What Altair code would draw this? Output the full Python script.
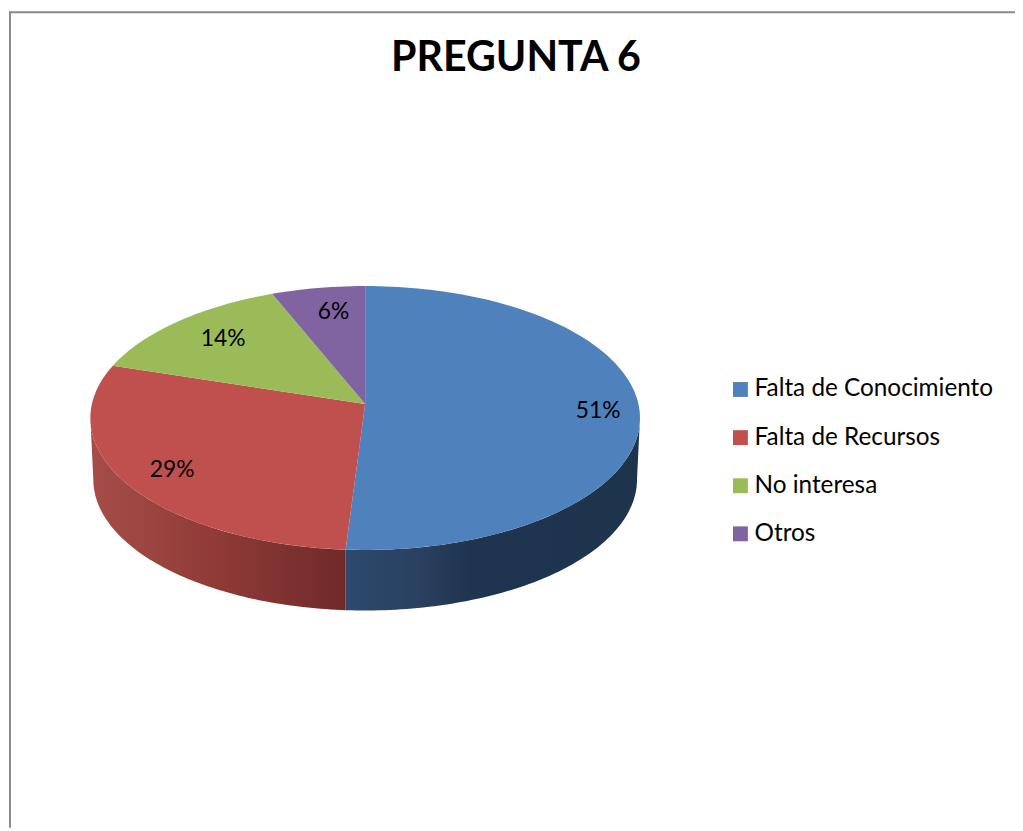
import math
import altair as alt

categories = ["Falta de Conocimiento", "Falta de Recursos", "No interesa", "Otros"]
shares = [51, 29, 14, 6]
colors = ["#4f81bd", "#c0504d", "#9bbb59", "#8064a2"]
label_reach = [0.85, 0.80, 0.80, 0.82]
label_turn = [0, 0, 3, 2]

# Picture geometry of the tilted pie (page pixels)
CX, CY, RX, RY = 368.0, 418.0, 277.0, 133.0
AX, AY, TILT = 368.0, 404.0, 130.0
BCX, BCY, BRX, BRY = 368.0, 480.0, 274.0, 132.0


def rim(theta_deg):
    """Point where the ray for a pie angle leaves the top ellipse."""
    t = math.radians(theta_deg)
    dx, dy = math.sin(t) * RX, -math.cos(t) * TILT
    ox, oy = (AX - CX) / RX, (AY - CY) / RY
    ux, uy = dx / RX, dy / RY
    a = ux * ux + uy * uy
    b = 2 * (ox * ux + oy * uy)
    c = ox * ox + oy * oy - 1
    s = (-b + math.sqrt(b * b - 4 * a * c)) / (2 * a)
    return [AX + s * dx, AY + s * dy]


def ell(cx, cy, rx, ry, t_deg):
    t = math.radians(t_deg)
    return [cx + rx * math.sin(t), cy - ry * math.cos(t)]


def feature(name, ring):
    return {"type": "Feature", "properties": {"name": name},
            "geometry": {"type": "Polygon", "coordinates": [ring + [ring[0]]]}}


tops, labels = [], []
start = 0.0
for name, share, reach, turn in zip(categories, shares, label_reach, label_turn):
    end = start + share * 3.6
    n = max(2, int((end - start) / 1.5))
    ring = [[AX, AY]] + [rim(start + (end - start) * i / n) for i in range(n + 1)]
    tops.append(feature(name, ring))
    mx, my = rim((start + end) / 2 + turn)
    labels.append({"lon": AX + reach * (mx - AX), "lat": AY + reach * (my - AY) + 4,
                   "text": f"{share}%"})
    start = end

seam = rim(shares[0] * 3.6)
t_seam = 180 - math.degrees(math.asin((seam[0] - CX) / RX))
t_bseam = 180 - math.degrees(math.asin((seam[0] - BCX) / BRX))


def wall(t0, t1, b0, b1):
    n = 80
    upper = [ell(CX, CY, RX, RY, t0 + (t1 - t0) * i / n) for i in range(n + 1)]
    lower = [ell(BCX, BCY, BRX, BRY, b0 + (b1 - b0) * i / n) for i in range(n + 1)]
    return upper + lower[::-1]


blue_wall = [feature("blue", wall(90, t_seam, 90, t_bseam))]
red_wall = [feature("red", wall(t_seam, 270, t_bseam, 270))]


def grad(stops):
    return {"gradient": "linear", "x1": 0, "x2": 1, "y1": 0, "y2": 0,
            "stops": [{"offset": o, "color": c} for o, c in stops]}


wall_blue = alt.Chart(alt.Data(values=blue_wall)).mark_geoshape(
    fill=grad([(0, "#2c4a6e"), (0.25, "#2a4060"), (0.42, "#1f344e"), (1, "#1e334c")]),
    strokeWidth=0).project(type="identity", scale=1, translate=[-8, -8])
wall_red = alt.Chart(alt.Data(values=red_wall)).mark_geoshape(
    fill=grad([(0, "#a64d49"), (0.5, "#8f3a37"), (1, "#6f2a29")]),
    strokeWidth=0).project(type="identity", scale=1, translate=[-8, -8])

top = alt.Chart(alt.Data(values=tops)).mark_geoshape(strokeWidth=0).encode(
    color=alt.Color("properties.name:N",
                    scale=alt.Scale(domain=categories, range=colors),
                    legend=alt.Legend(orient="none", legendX=726, legendY=369, title=None,
                                      symbolType="square", symbolSize=225, symbolStrokeWidth=0,
                                      labelFont="Lato", labelFontSize=24.5, labelColor="#000000",
                                      labelLimit=400, rowPadding=23.5, labelOffset=2, padding=0))
).project(type="identity", scale=1, translate=[-8, -8])

text = alt.Chart(alt.Data(values=labels)).mark_text(
    font="Lato", fontSize=23, color="#000000", baseline="middle", align="center"
).encode(longitude="lon:Q", latitude="lat:Q", text="text:N"
         ).project(type="identity", scale=1, translate=[-8, -8])

border_color = "#8a8a8a"
left = alt.Chart(alt.Data(values=[{"a": 1}])).mark_rule(color=border_color, strokeWidth=2).encode(
    x=alt.value(2), y=alt.value(0), y2=alt.value(823))
upper = alt.Chart(alt.Data(values=[{"a": 1}])).mark_rule(color=border_color, strokeWidth=2).encode(
    x=alt.value(1), x2=alt.value(1015), y=alt.value(1))

chart = alt.layer(left, upper, wall_blue, wall_red, top, text).properties(
    width=1015, height=823, padding=0, autosize="none",
    title=alt.TitleParams("PREGUNTA 6", font="Lato", fontSize=41.5, fontWeight="bold",
                          color="#000000", anchor="middle", frame="group", dx=4.5, dy=74)
).configure_view(strokeWidth=0)

chart.save("out.html", embed_options={"renderer": "svg", "actions": False})
